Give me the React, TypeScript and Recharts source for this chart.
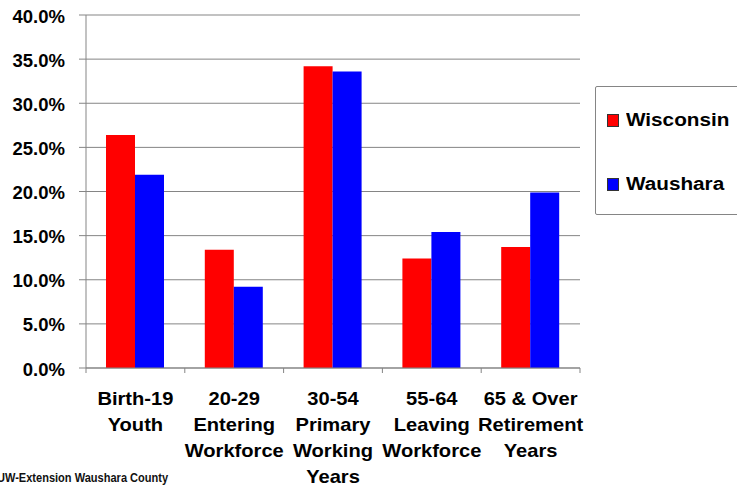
import React from "react";
import {
  BarChart,
  Bar,
  XAxis,
  YAxis,
  CartesianGrid,
} from "recharts";

const categories = [
  "Birth-19\nYouth",
  "20-29\nEntering\nWorkforce",
  "30-54\nPrimary\nWorking\nYears",
  "55-64\nLeaving\nWorkforce",
  "65 & Over\nRetirement\nYears",
];
const wisconsin = [26.4, 13.4, 34.2, 12.4, 13.7];
const waushara = [21.9, 9.2, 33.6, 15.4, 19.9];
const yTicks = [0, 5, 10, 15, 20, 25, 30, 35, 40];

const seriesNames = ["Wisconsin", "Waushara"];
const seriesColors = ["#ff0000", "#0000ff"];

const data = categories.map((c, i) => ({
  name: c,
  wisconsin: wisconsin[i],
  waushara: waushara[i],
}));

const FONT = "'Liberation Sans', Arial, sans-serif";
const GRID = "#858585";

function CategoryTick(props: any) {
  const { x, y, payload, index, visibleTicksCount } = props;
  const half = payload?.offset ?? 49.4;
  const lines = String(payload.value).split("\n");
  return (
    <g>
      <line x1={x - half} y1={y} x2={x - half} y2={y + 5} stroke={GRID} />
      {index === visibleTicksCount - 1 && (
        <line x1={x + half} y1={y} x2={x + half} y2={y + 5} stroke={GRID} />
      )}
      <g transform={`translate(${x},${y}) scale(1.15,1)`}>
        <text
          textAnchor="middle"
          fontFamily={FONT}
          fontWeight="bold"
          fontSize={17.5}
          fill="#000"
        >
          {lines.map((l, i) => (
            <tspan key={i} x={0} y={37 + i * 26}>
              {l}
            </tspan>
          ))}
        </text>
      </g>
    </g>
  );
}

function PercentTick(props: any) {
  const { x, y, payload } = props;
  return (
    <text
      x={x}
      y={y + 7.5}
      textAnchor="end"
      fontFamily={FONT}
      fontWeight="bold"
      fontSize={18.5}
      fill="#000"
    >
      {`${Number(payload.value).toFixed(1)}%`}
    </text>
  );
}

export default function App() {
  return (
    <div
      style={{
        position: "absolute",
        left: 0,
        top: 0,
        width: 737,
        height: 489,
        background: "#fff",
        overflow: "hidden",
      }}
    >
      <BarChart
        width={737}
        height={489}
        data={data}
        margin={{ top: 15, right: 157, bottom: 0, left: 0 }}
        barCategoryGap={20}
        barGap={0}
      >
        <CartesianGrid vertical={false} stroke={GRID} strokeWidth={1} />
        <XAxis
          dataKey="name"
          height={121}
          axisLine={{ stroke: GRID }}
          tickLine={false}
          tickSize={0}
          tickMargin={0}
          interval={0}
          tick={<CategoryTick />}
        />
        <YAxis
          domain={[0, 40]}
          ticks={yTicks}
          width={86}
          axisLine={{ stroke: GRID }}
          tickLine={{ stroke: GRID }}
          tickSize={7}
          tickMargin={14}
          tick={<PercentTick />}
        />
        <YAxis
          yAxisId="right"
          orientation="right"
          domain={[0, 40]}
          width={0}
          tick={false}
          tickLine={false}
          axisLine={{ stroke: GRID }}
        />
        <Bar dataKey="wisconsin" name={seriesNames[0]} fill={seriesColors[0]} isAnimationActive={false} />
        <Bar dataKey="waushara" name={seriesNames[1]} fill={seriesColors[1]} isAnimationActive={false} />
      </BarChart>

      <div
        style={{
          position: "absolute",
          left: 595,
          top: 86,
          width: 170,
          height: 129,
          border: `1px solid ${GRID}`,
          borderRadius: 2,
          boxSizing: "border-box",
          background: "#fff",
        }}
      >
        {seriesNames.map((n, i) => (
          <div
            key={n}
            style={{
              position: "absolute",
              left: 11,
              top: 26 + i * 64,
              height: 14,
              display: "flex",
              alignItems: "center",
              whiteSpace: "nowrap",
            }}
          >
            <div
              style={{
                width: 12,
                height: 13,
                background: seriesColors[i],
                border: "1px solid #333",
                boxSizing: "border-box",
              }}
            />
            <span
              style={{
                marginLeft: 7,
                fontFamily: FONT,
                fontWeight: "bold",
                fontSize: 18,
                color: "#000",
                display: "inline-block",
                transform: "scale(1.15,1)",
                transformOrigin: "left center",
              }}
            >
              {n}
            </span>
          </div>
        ))}
      </div>

      <div
        style={{
          position: "absolute",
          left: -3,
          top: 470,
          fontFamily: FONT,
          fontSize: 12,
          fontWeight: "bold",
          color: "#111",
          whiteSpace: "nowrap",
          transform: "scale(0.92,1.1)",
          transformOrigin: "left top",
        }}
      >
        UW-Extension Waushara County
      </div>
    </div>
  );
}
